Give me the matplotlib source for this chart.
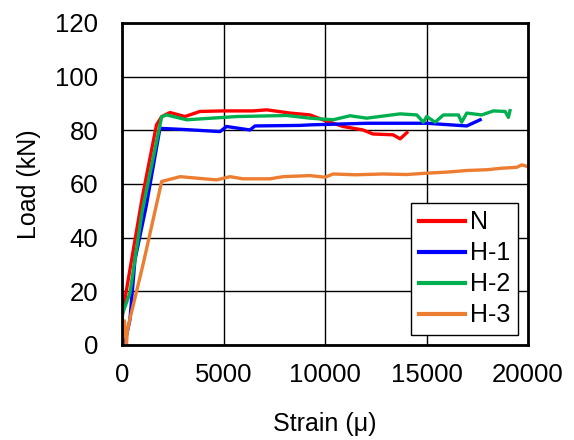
import matplotlib.pyplot as plt

plt.rcParams['font.family'] = ['Liberation Sans', 'DejaVu Sans']

# strain (micro) / load (kN)
n_strain = [0, 100, 300, 1000, 1700, 1955, 2365, 3100, 3840, 4980, 6450, 7130, 8280,
            9260, 10000, 10890, 11870, 12360, 13350, 13700, 14030]
n_load = [10, 15, 24, 55, 82, 85.1, 86.6, 85.1, 87.0, 87.2, 87.2, 87.6, 86.4,
          85.7, 83.6, 81.4, 80.1, 78.6, 78.3, 76.8, 79.1]

h1_strain = [0, 150, 390, 640, 1200, 1870, 3000, 4830, 5150, 6300, 6550, 8770,
             9260, 12050, 15010, 16980, 17640]
h1_load = [3, 1, 9.3, 31.7, 52, 80.7, 80.3, 79.5, 81.4, 80.1, 81.6, 81.8,
           82.0, 82.6, 82.6, 81.6, 83.9]

h2_strain = [0, 30, 390, 1000, 1955, 2200, 3190, 5650, 8110, 9260, 10400, 11230,
             12050, 13700, 14520, 14840, 15010, 15420, 15830, 16570, 16730, 16980,
             17720, 18290, 18870, 19030, 19110]
h2_load = [8, 11.8, 19.3, 50, 85.0, 85.7, 83.9, 85.1, 85.5, 84.5, 83.9, 85.4,
           84.5, 86.1, 85.7, 83.0, 85.1, 83.0, 85.7, 85.7, 83.0, 86.4,
           85.7, 87.2, 87.0, 84.8, 87.3]

h3_strain = [0, 30, 120, 220, 260, 400, 1050, 1955, 2860, 4660, 5320, 5960, 7290,
             7930, 9260, 10000, 10400, 11500, 12860, 14000, 15010, 16000, 16980,
             18000, 18620, 19440, 19700, 20000]
h3_load = [0, 8, 9, 0, 5, 10, 30.4, 60.9, 62.7, 61.5, 62.7, 61.9, 61.9,
           62.7, 63.1, 62.5, 63.7, 63.4, 63.7, 63.5, 64.0, 64.4, 65.0,
           65.3, 65.8, 66.2, 67.1, 66.4]

series = [
    ("N", n_strain, n_load, "#ff0000"),
    ("H-1", h1_strain, h1_load, "#0000ff"),
    ("H-2", h2_strain, h2_load, "#00b050"),
    ("H-3", h3_strain, h3_load, "#ed7d31"),
]

fig = plt.figure(figsize=(5.74, 4.4), dpi=100)
ax = fig.add_axes([0.2125, 0.216, 0.7075, 0.732])

for label, x, y, color in series:
    ax.plot(x, y, color=color, lw=2.4, label=label, solid_joinstyle='round')

ax.set_xlim(0, 20000)
ax.set_ylim(0, 120)
ax.set_xticks([0, 5000, 10000, 15000, 20000])
ax.set_yticks(range(0, 121, 20))
ax.grid(True, color='black', lw=1)
ax.set_axisbelow(True)
for sp in ax.spines.values():
    sp.set_linewidth(2)
ax.tick_params(length=0, labelsize=18.5)
ax.tick_params(axis='x', pad=13)
ax.tick_params(axis='y', pad=17)

ax.set_xlabel("Strain (μ)", fontsize=18, labelpad=18)
ax.set_ylabel("Load (kN)", fontsize=18, labelpad=10)

leg = ax.legend(loc='lower right', fontsize=18, frameon=True, fancybox=False,
                edgecolor='black', framealpha=1, handlelength=1.85,
                borderaxespad=0.4, labelspacing=0.28, handletextpad=0.2,
                borderpad=0.3)
leg.get_frame().set_linewidth(1)
for line in leg.get_lines():
    line.set_linewidth(3)

fig.savefig("out.png", dpi=100)
